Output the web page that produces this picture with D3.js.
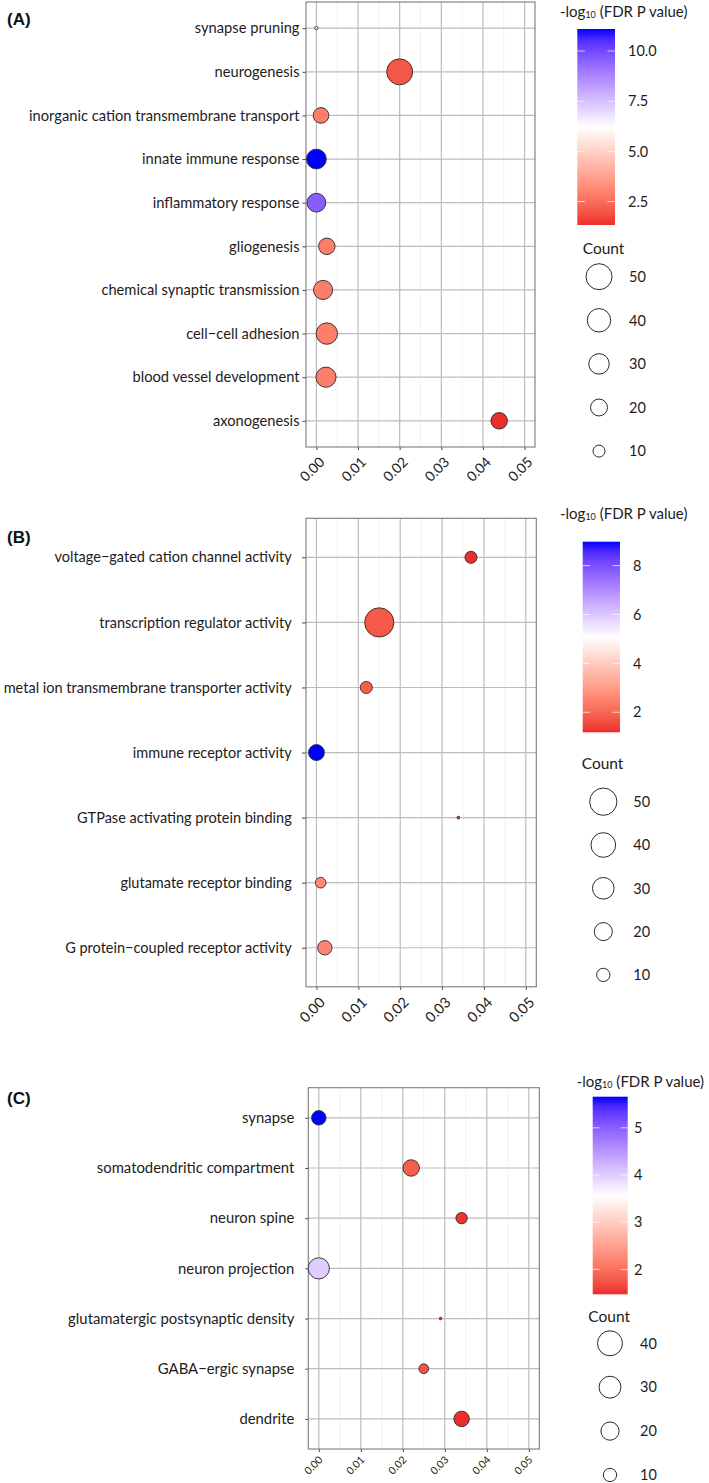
<!DOCTYPE html>
<html><head><meta charset="utf-8">
<script src="https://cdn.jsdelivr.net/npm/d3@7"></script>
<style>
body{margin:0;background:#fff}
svg{display:block}
text{font-family:Lato,"Open Sans",sans-serif;fill:#1e1b1c}
</style>
</head><body>
<svg id="chart" width="709" height="1483"></svg>
<script>
// ---------------- DATA ----------------
const termsA = ["synapse pruning","neurogenesis","inorganic cation transmembrane transport","innate immune response","inflammatory response","gliogenesis","chemical synaptic transmission","cell\u2212cell adhesion","blood vessel development","axonogenesis"];
const ratioA = [0.0000,0.0200,0.0011,0.0000,0.0000,0.0025,0.0016,0.0025,0.0023,0.0439];
const countA = [3,50,17,28,25,19,26,33,29,19];
const logpA  = [6.2,2.0,2.9,11.1,9.6,2.9,2.9,2.9,2.9,1.33];

const termsB = ["voltage\u2212gated cation channel activity","transcription regulator activity","metal ion transmembrane transporter activity","immune receptor activity","GTPase activating protein binding","glutamate receptor binding","G protein\u2212coupled receptor activity"];
const ratioB = [0.0369,0.0150,0.0119,0.0000,0.0339,0.0010,0.0020];
const countB = [8,58,8,15,1,6,12];
const logpB  = [1.18,1.77,1.88,8.98,1.3,2.66,2.55];

const termsC = ["synapse","somatodendritic compartment","neuron spine","neuron projection","glutamatergic postsynaptic density","GABA\u2212ergic synapse","dendrite"];
const ratioC = [0.0000,0.0220,0.0340,0.0000,0.0290,0.0250,0.0340];
const countC = [12,16,7,28,1,5,14];
const logpC  = [5.66,1.83,1.5,4.0,1.55,1.74,1.47];

const xTicks = [0,0.01,0.02,0.03,0.04,0.05];
const xTickLabels = ["0.00","0.01","0.02","0.03","0.04","0.05"];
const xMinor = [0.005,0.015,0.025,0.035,0.045];
const colorTicksA = [2.5,5.0,7.5,10.0], colorLabelsA = ["2.5","5.0","7.5","10.0"];
const colorTicksB = [2,4,6,8], colorLabelsB = ["2","4","6","8"];
const colorTicksC = [2,3,4,5], colorLabelsC = ["2","3","4","5"];
const sizeBreaksA = [50,40,30,20,10];
const sizeBreaksB = [50,40,30,20,10];
const sizeBreaksC = [40,30,20,10];
const panelLetters = ["(A)","(B)","(C)"];
const legendTitleParts = ["-log","10"," (FDR P value)"];
const sizeTitle = "Count";

// ---------------- LAYOUT ----------------
const panels = [
  {letter:panelLetters[0], letterY:25, terms:termsA, ratio:ratioA, count:countA, logp:logpA,
   box:{x0:306,x1:535,y0:2,y1:447}, labelEnd:299.5, tickLen:3.5, longest:2, longestW:270.7,
   tickFont:14, tickDx:8.5, tickDy:16,
   size:{min:3, ref:50, rMin:1.6, rRef:13.0},
   cTicks:colorTicksA, cLabels:colorLabelsA, sBreaks:sizeBreaksA,
   leg:{titleX:560, titleY:17, barX:577.3, barW:37.7, barY0:29, barY1:225, labelX:628,
        countX:582.7, countY:253.5, keyX:599, keyY0:276.7, keyStep:43.6, keyLabelX:629}},
  {letter:panelLetters[1], letterY:543, terms:termsB, ratio:ratioB, count:countB, logp:logpB,
   box:{x0:306,x1:536.3,y0:518.3,y1:986.8}, labelEnd:291.7, tickLen:4, longest:2, longestW:288.4,
   tickFont:14.5, tickDx:9, tickDy:16.5,
   size:{min:1, ref:50, rMin:1.4, rRef:13.65},
   cTicks:colorTicksB, cLabels:colorLabelsB, sBreaks:sizeBreaksB,
   leg:{titleX:560, titleY:519, barX:582.7, barW:37.3, barY0:541.7, barY1:732.3, labelX:633,
        countX:581.7, countY:768.5, keyX:603.3, keyY0:801.7, keyStep:43.3, keyLabelX:633.3}},
  {letter:panelLetters[2], letterY:1104, terms:termsC, ratio:ratioC, count:countC, logp:logpC,
   box:{x0:308.3,x1:539.3,y0:1087.7,y1:1449}, labelEnd:294.3, tickLen:3, longest:1, longestW:197.6,
   tickFont:10.5, tickDx:4, tickDy:11.5,
   size:{min:1, ref:40, rMin:1.25, rRef:12.5},
   cTicks:colorTicksC, cLabels:colorLabelsC, sBreaks:sizeBreaksC,
   leg:{titleX:576.7, titleY:1087, barX:592.7, barW:35, barY0:1096.7, barY1:1294.3, labelX:634,
        countX:588.3, countY:1322, keyX:610, keyY0:1343.3, keyStep:43.9, keyLabelX:640}}
];

const LOW = "#ec2d2d", MID = "#ffffff", HIGH = "#0000ff";
const svg = d3.select("#chart");
const defs = svg.append("defs");

panels.forEach((p, pi) => {
  const g = svg.append("g");
  const x = d3.scaleLinear().domain([-0.0025, 0.0525]).range([p.box.x0, p.box.x1]);
  const y = d3.scalePoint().domain(p.terms).range([p.box.y0, p.box.y1]).padding(0.6);
  const ext = d3.extent(p.logp);
  const mid = (ext[0] + ext[1]) / 2;
  const color = d3.scaleLinear().domain([ext[0], mid, ext[1]]).range([LOW, MID, HIGH])
                  .interpolate(d3.interpolateLab).clamp(true);
  const sLin = d3.scaleLinear().domain([0, Math.sqrt(p.size.ref - p.size.min)]).range([p.size.rMin, p.size.rRef]);
  const radius = v => sLin(Math.sqrt(Math.max(0, v - p.size.min)));

  // panel letter
  g.append("text").attr("x", 7).attr("y", p.letterY)
    .style("font-family", "'Liberation Sans', Arial, sans-serif").style("font-weight", "bold")
    .style("font-size", "17px").style("fill", "#111").text(p.letter);

  // minor grid
  g.append("g").selectAll("line").data(xMinor).join("line")
    .attr("x1", d => x(d)).attr("x2", d => x(d)).attr("y1", p.box.y0).attr("y2", p.box.y1)
    .attr("stroke", "#ebebeb").attr("stroke-width", 0.7);
  // major vertical grid
  g.append("g").selectAll("line").data(xTicks).join("line")
    .attr("x1", d => x(d)).attr("x2", d => x(d)).attr("y1", p.box.y0).attr("y2", p.box.y1)
    .attr("stroke", "#bcbcbc").attr("stroke-width", 1.2);
  // major horizontal grid
  g.append("g").selectAll("line").data(p.terms).join("line")
    .attr("x1", p.box.x0).attr("x2", p.box.x1).attr("y1", d => y(d)).attr("y2", d => y(d))
    .attr("stroke", "#bcbcbc").attr("stroke-width", 1.2);

  // y axis
  const yAxis = d3.axisLeft(y).tickSize(p.tickLen).tickPadding(p.box.x0 - p.tickLen - p.labelEnd);
  const ya = g.append("g").attr("transform", `translate(${p.box.x0},0)`).call(yAxis);
  ya.select(".domain").remove();
  ya.selectAll(".tick line").attr("stroke", "#444").attr("stroke-width", 1);
  const yt = ya.selectAll(".tick text").attr("fill", "#1e1b1c").style("font-family", "Lato,'Open Sans',sans-serif");
  yt.style("font-size", "13px");
  const longestNode = yt.filter((d, i) => i === p.longest).node();
  const w = longestNode.getComputedTextLength();
  const fs = 13 * p.longestW / w;
  yt.style("font-size", fs + "px");

  // x axis
  const xAxis = d3.axisBottom(x).tickValues(xTicks).tickSize(3).tickFormat((d, i) => xTickLabels[i]);
  const xa = g.append("g").attr("transform", `translate(0,${p.box.y1})`).call(xAxis);
  xa.select(".domain").remove();
  xa.selectAll(".tick line").attr("stroke", "#444");
  xa.selectAll(".tick text")
    .attr("fill", "#1e1b1c").style("font-family", "Lato,'Open Sans',sans-serif")
    .style("font-size", p.tickFont + "px")
    .attr("text-anchor", "end").attr("dy", null).attr("y", 0)
    .attr("transform", `translate(${p.tickDx},${p.tickDy}) rotate(-45)`);

  // border
  g.append("rect").attr("x", p.box.x0).attr("y", p.box.y0)
    .attr("width", p.box.x1 - p.box.x0).attr("height", p.box.y1 - p.box.y0)
    .attr("fill", "none").attr("stroke", "#7a7a7a").attr("stroke-width", 1.1);

  // points
  const idx = d3.range(p.terms.length);
  g.append("g").selectAll("circle").data(idx).join("circle")
    .attr("cx", i => x(p.ratio[i])).attr("cy", i => y(p.terms[i]))
    .attr("r", i => radius(p.count[i]))
    .attr("fill", i => color(p.logp[i]))
    .attr("stroke", "#2a2a2a").attr("stroke-width", 0.9);

  // ---------- legend ----------
  const L = p.leg;
  const title = g.append("text").attr("x", L.titleX).attr("y", L.titleY).style("font-size", "15px");
  title.append("tspan").text(legendTitleParts[0]);
  title.append("tspan").style("font-size", "9px").attr("dy", 1).text(legendTitleParts[1]);
  title.append("tspan").attr("dy", -1).text(legendTitleParts[2]);

  const gid = "grad" + pi;
  const grad = defs.append("linearGradient").attr("id", gid)
    .attr("x1", 0).attr("y1", 1).attr("x2", 0).attr("y2", 0);
  d3.range(0, 1.0001, 0.05).forEach(t => {
    grad.append("stop").attr("offset", t).attr("stop-color", color(ext[0] + t * (ext[1] - ext[0])));
  });
  g.append("rect").attr("x", L.barX).attr("y", L.barY0).attr("width", L.barW)
    .attr("height", L.barY1 - L.barY0).attr("fill", `url(#${gid})`);
  const cy = d3.scaleLinear().domain(ext).range([L.barY1, L.barY0]);
  const ct = g.append("g");
  p.cTicks.forEach((v, i) => {
    ct.append("line").attr("x1", L.barX).attr("x2", L.barX + L.barW * 0.2)
      .attr("y1", cy(v)).attr("y2", cy(v)).attr("stroke", "#fff").attr("stroke-opacity", 0.7);
    ct.append("line").attr("x1", L.barX + L.barW * 0.8).attr("x2", L.barX + L.barW)
      .attr("y1", cy(v)).attr("y2", cy(v)).attr("stroke", "#fff").attr("stroke-opacity", 0.7);
    ct.append("text").attr("x", L.labelX).attr("y", cy(v)).attr("dy", "0.36em")
      .style("font-size", "14.5px").text(p.cLabels[i]);
  });

  g.append("text").attr("x", L.countX).attr("y", L.countY).style("font-size", "15.5px").text(sizeTitle);
  p.sBreaks.forEach((v, i) => {
    const ky = L.keyY0 + i * L.keyStep;
    g.append("circle").attr("cx", L.keyX).attr("cy", ky).attr("r", radius(v))
      .attr("fill", "none").attr("stroke", "#2a2a2a").attr("stroke-width", 1);
    g.append("text").attr("x", L.keyLabelX).attr("y", ky).attr("dy", "0.36em")
      .style("font-size", "14.5px").text(v);
  });
});
</script>
</body></html>
